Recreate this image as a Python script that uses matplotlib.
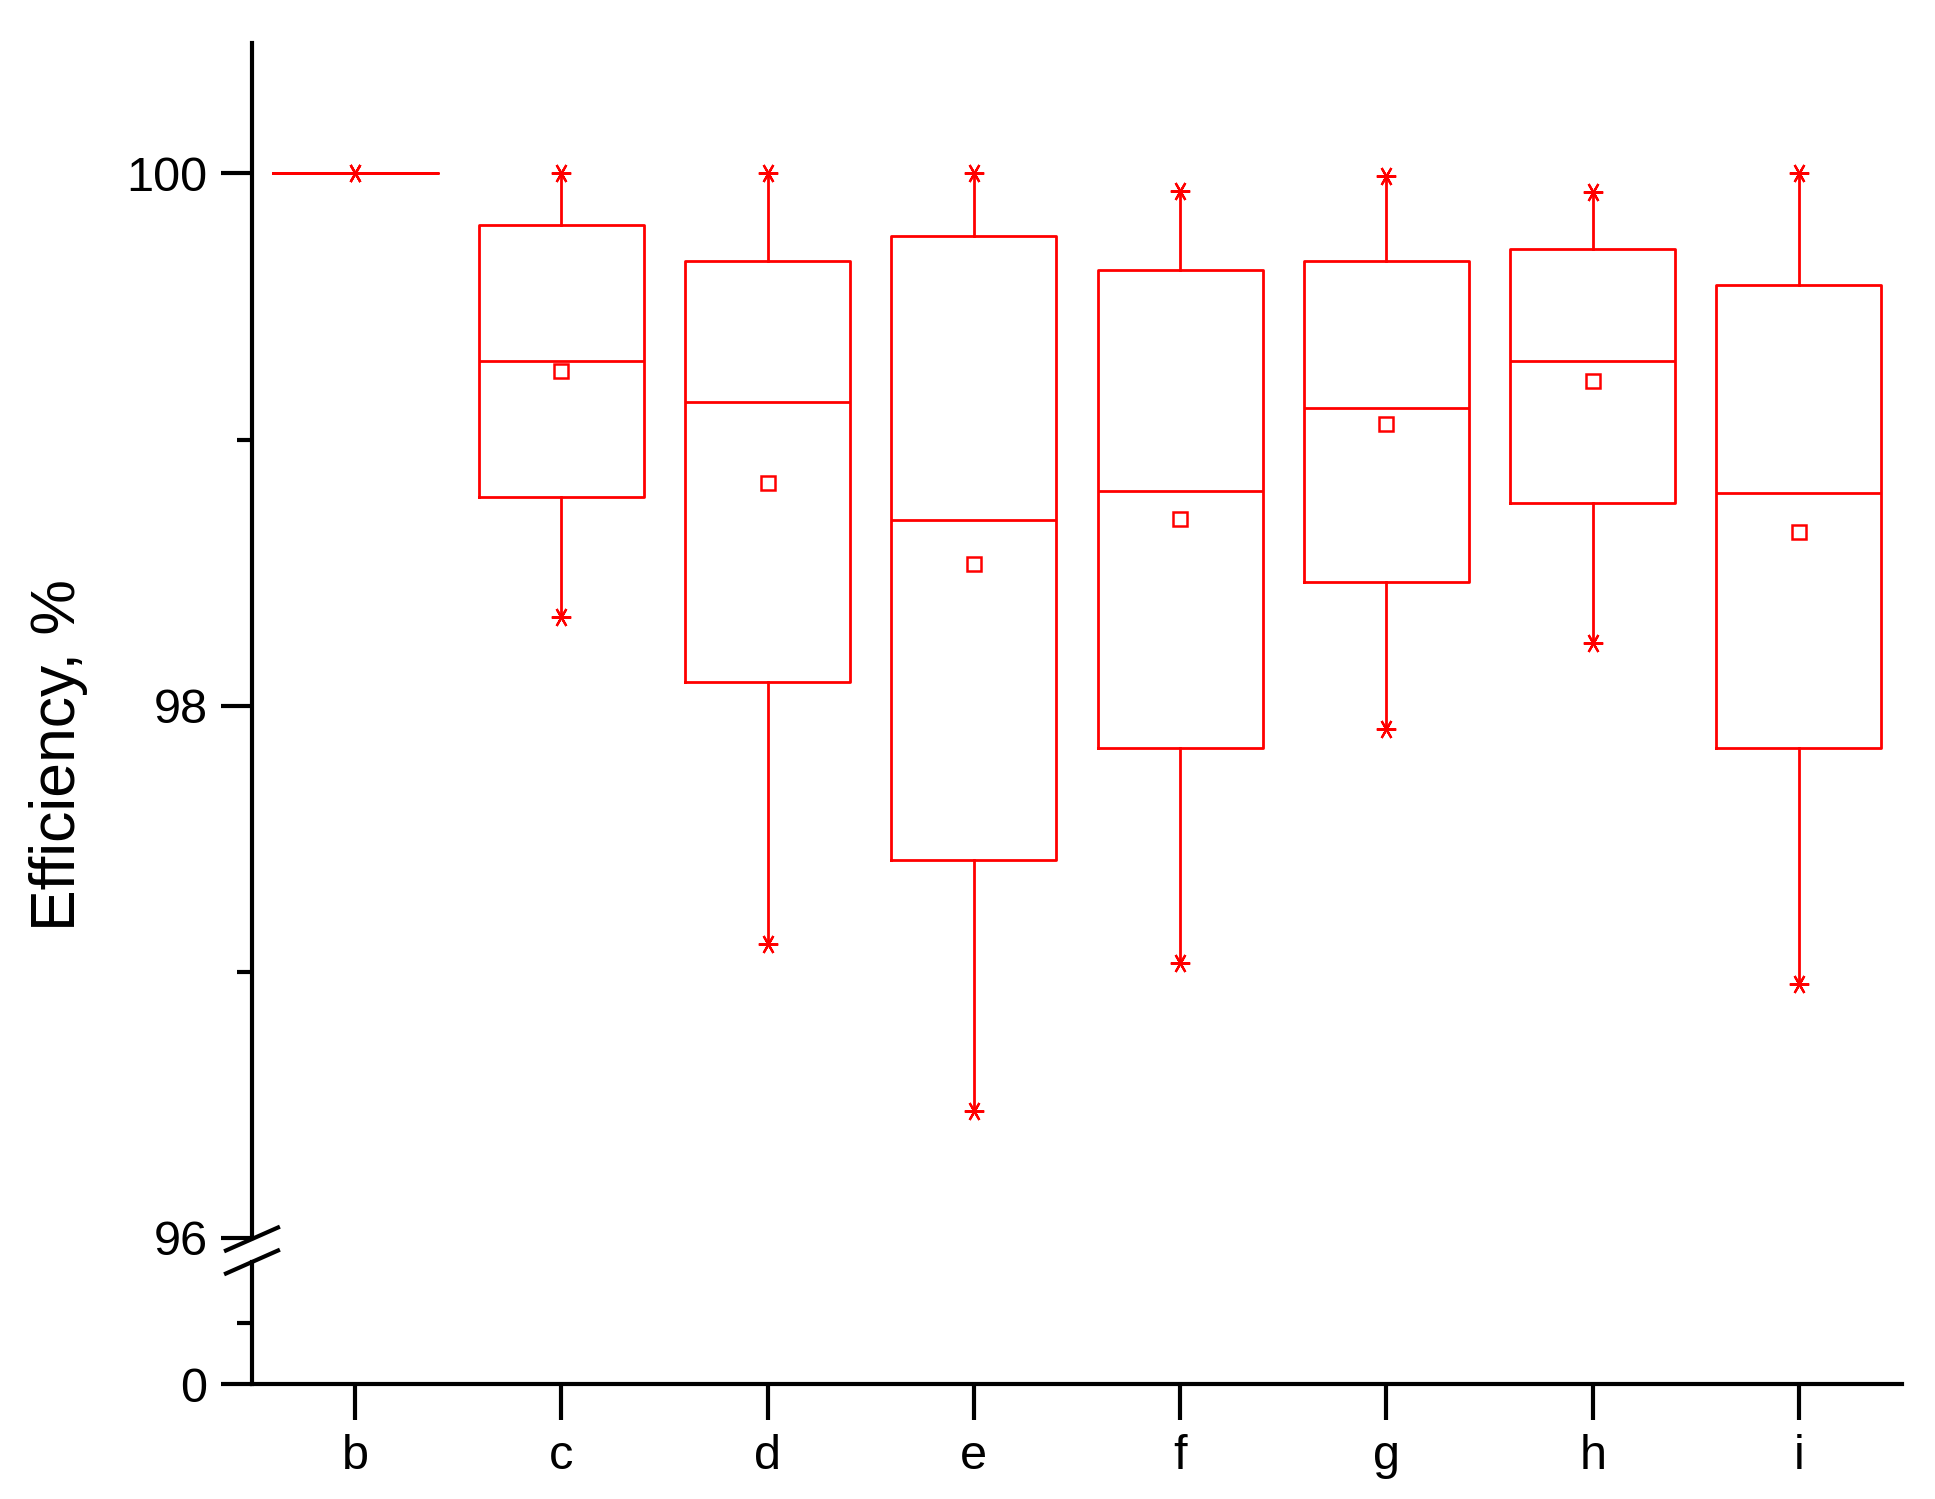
import numpy as np
import matplotlib.pyplot as plt
from matplotlib.lines import Line2D

plt.rcParams['font.family'] = ['Liberation Sans', 'DejaVu Sans']

# Values
categories = ['b', 'c', 'd', 'e', 'f', 'g', 'h', 'i']
whisker_low = [100.0, 98.334, 97.104, 96.478, 97.035, 97.912, 98.237, 96.956]
q1 = [100.0, 98.784, 98.088, 97.420, 97.842, 98.464, 98.761, 97.842]
median = [100.0, 99.295, 99.140, 98.696, 98.807, 99.118, 99.295, 98.798]
q3 = [100.0, 99.805, 99.670, 99.763, 99.638, 99.670, 99.717, 99.582]
whisker_high = [100.0, 100.0, 100.0, 100.0, 99.935, 99.990, 99.930, 100.0]
means = [np.nan, 99.258, 98.835, 98.534, 98.700, 99.058, 99.220, 98.654]

red = '#ff0000'
x = np.arange(len(categories))

stats = []
for k in range(len(categories)):
    stats.append(dict(label=categories[k], whislo=whisker_low[k], q1=q1[k],
                      med=median[k], q3=q3[k], whishi=whisker_high[k], fliers=[]))

fig = plt.figure(figsize=(19.35, 14.99), dpi=100)
left, width = 252 / 1935, 1650 / 1935
ax = fig.add_axes([left, 261 / 1499, width, 1195 / 1499])
ax_low = fig.add_axes([left, 115 / 1499, width, 122 / 1499])

lw = 2.0
ax.bxp(stats, positions=x, widths=0.8, showcaps=False, showfliers=False,
       boxprops=dict(color=red, linewidth=lw),
       medianprops=dict(color=red, linewidth=lw),
       whiskerprops=dict(color=red, linewidth=lw))

# min / max markers and means
star = (6, 2, 90)
ax.plot(x, whisker_high, linestyle='none', marker=star, color=red,
        markersize=14, markeredgewidth=1.6, clip_on=False)
ax.plot(x, whisker_low, linestyle='none', marker=star, color=red,
        markersize=14, markeredgewidth=1.6, clip_on=False)
ax.plot(x, means, linestyle='none', marker='s', markerfacecolor='none',
        markeredgecolor=red, markersize=10, markeredgewidth=1.8)

for a in (ax, ax_low):
    a.set_xlim(-0.5, 7.5)
    a.spines['top'].set_visible(False)
    a.spines['right'].set_visible(False)
    a.spines['left'].set_linewidth(3)
    a.spines['bottom'].set_linewidth(3)
    a.tick_params(axis='y', which='major', direction='out', length=22, width=3,
                  labelsize=35, pad=10)
    a.tick_params(axis='y', which='minor', direction='out', length=11, width=3)

ax.spines['bottom'].set_visible(False)
ax.set_ylim(96, 100.49)
ax.set_yticks([96, 98, 100])
ax.set_yticks([97, 99], minor=True)
ax.tick_params(axis='x', bottom=False, labelbottom=False)

ax_low.set_ylim(0, 2)
ax_low.set_yticks([0])
ax_low.set_yticks([1], minor=True)
ax_low.set_xticks(x)
ax_low.set_xticklabels(categories)
ax_low.tick_params(axis='x', direction='out', length=26, width=3, labelsize=35, pad=10)

# axis break marks
xs = 252 / 1935
dx, dy = 26 / 1935, 11.5 / 1499
for yc in (1 - 1239 / 1499, 1 - 1262 / 1499):
    fig.add_artist(Line2D([xs - dx, xs + dx], [yc - dy, yc + dy],
                          transform=fig.transFigure, color='black', linewidth=3))

fig.text(58 / 1935, 1 - 755 / 1499, 'Efficiency, %', rotation=90,
         ha='center', va='center', fontsize=45)

plt.savefig('out.png', dpi=100)
